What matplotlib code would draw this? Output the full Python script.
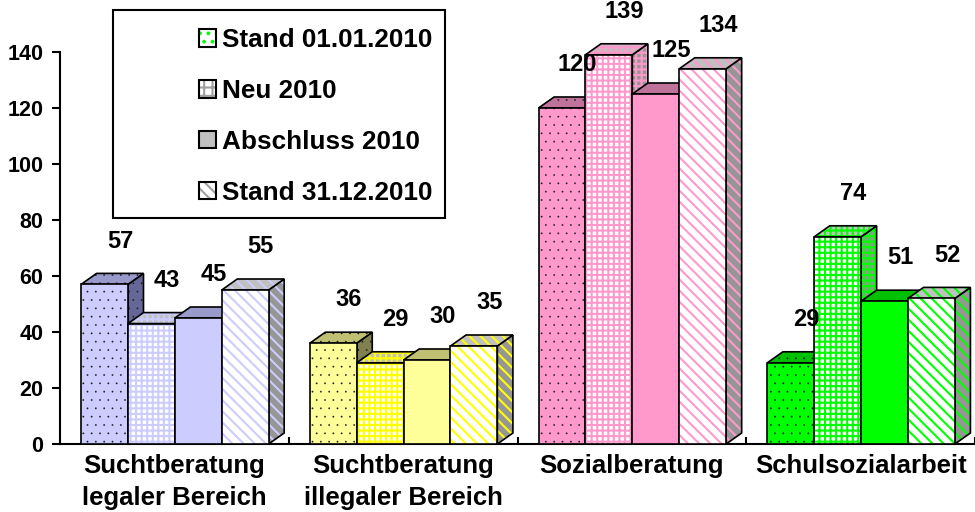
import matplotlib
matplotlib.use('Agg')
import matplotlib.pyplot as plt
from matplotlib.patches import Polygon, Patch, Rectangle
import numpy as np

# ---------------- data ----------------
categories = ['Suchtberatung\nlegaler Bereich', 'Suchtberatung\nillegaler Bereich',
              'Sozialberatung', 'Schulsozialarbeit']
series = ['Stand 01.01.2010', 'Neu 2010', 'Abschluss 2010', 'Stand 31.12.2010']
stand_0101 = [57, 36, 120, 29]
neu_2010 = [43, 29, 139, 74]
abschluss_2010 = [45, 30, 125, 51]
stand_3112 = [55, 35, 134, 52]
yticks = [0, 20, 40, 60, 80, 100, 120, 140]

values = [stand_0101, neu_2010, abschluss_2010, stand_3112]

# ---------------- style ----------------
base_col = ['#ccccff', '#ffff99', '#ff99cc', '#00ff00']
top_col = ['#9999cc', '#c0c073', '#c0739a', '#00c000']
side_col = ['#666699', '#808050', '#99607c', '#008000']
pat_col = ['#ccccff', '#ffff00', '#ff99cc', '#00ff00']
grey_top = '#c0c0c0'
grey_side = '#969696'

plt.rcParams['font.family'] = ['Liberation Sans', 'DejaVu Sans']
plt.rcParams['font.weight'] = 'bold'
plt.rcParams['hatch.linewidth'] = 1.5


def make_patch(cls, *args, hlw=1.5, **kw):
    with plt.rc_context({'hatch.linewidth': hlw}):
        p = cls(*args, **kw)
        if hasattr(p, 'set_hatch_linewidth'):
            p.set_hatch_linewidth(hlw)
    return p


fig = plt.figure(figsize=(9.75, 5.12), dpi=100)
ax = fig.add_axes([60 / 975, 68 / 512, 915 / 975, 392 / 512])
ax.set_xlim(-0.5, 3.5)
ax.set_ylim(0, 140)

W = 0.205      # bar width (category units)
G0 = -0.408    # group start relative to category center
DX = 0.068     # depth offset x
DY = 3.93      # depth offset y (value units)
EDGE = 1.2

x_base = np.arange(len(categories))


def face_style(s, c, face):
    """return facecolor, hatch, hatchcolor, hatch lw"""
    if s == 0:
        fc = {'front': base_col[c], 'top': top_col[c], 'side': side_col[c]}[face]
        return fc, '..', '#202020', 0.1
    if s == 1:
        fc = {'front': 'white', 'top': grey_top, 'side': grey_side}[face]
        return fc, '+++', pat_col[c], 1.5
    if s == 2:
        fc = {'front': base_col[c], 'top': top_col[c], 'side': side_col[c]}[face]
        return fc, None, 'none', 1.0
    fc = {'front': 'white', 'top': grey_top, 'side': grey_side}[face]
    return fc, '\\\\\\', pat_col[c], 1.5


for c in range(len(categories)):
    for s in range(len(series)):
        v = values[s][c]
        x0 = x_base[c] + G0 + s * W
        z = 10 + (c * len(series) + s) * 3
        side_pts = [(x0 + W, 0), (x0 + W + DX, DY), (x0 + W + DX, v + DY), (x0 + W, v)]
        top_pts = [(x0, v), (x0 + W, v), (x0 + W + DX, v + DY), (x0 + DX, v + DY)]
        for face, pts, zz in (('side', side_pts, z), ('top', top_pts, z + 1)):
            fc, h, hc, hlw = face_style(s, c, face)
            p = make_patch(Polygon, pts, closed=True, facecolor=fc, edgecolor=hc,
                           lw=0, hatch=h, zorder=zz, clip_on=False, hlw=hlw)
            ax.add_patch(p)
            ax.add_patch(Polygon(pts, closed=True, fill=False, edgecolor='black',
                                 lw=EDGE, zorder=zz + 0.5, clip_on=False,
                                 joinstyle='miter'))
        # front face
        fc, h, hc, hlw = face_style(s, c, 'front')
        with plt.rc_context({'hatch.linewidth': hlw}):
            b = ax.bar(x0, v, W, align='edge', color=fc, edgecolor=hc, lw=0,
                       hatch=h, zorder=z + 2)
            for p in b.patches:
                if hasattr(p, 'set_hatch_linewidth'):
                    p.set_hatch_linewidth(hlw)
        ax.bar(x0, v, W, align='edge', fill=False, edgecolor='black', lw=EDGE,
               zorder=z + 2.5)
        ax.text(x0 + W / 2 + DX, v + 15.5, str(v), ha='center', va='center',
                fontsize=17, fontweight='bold', zorder=200, clip_on=False)

# ---------------- axes ----------------
for sp in ('top', 'right'):
    ax.spines[sp].set_visible(False)
for sp in ('left', 'bottom'):
    ax.spines[sp].set_linewidth(1.5)

ax.set_yticks(yticks)
ax.tick_params(axis='y', direction='out', length=6, width=1.5, labelsize=15.5, pad=6)
ax.set_xticks(list(x_base[1:] - 0.5) + [3.5], labels=[])
ax.tick_params(axis='x', which='major', direction='in', length=5, width=1.5)
ax.set_xticks(x_base, labels=categories, minor=True)
ax.tick_params(axis='x', which='minor', length=0, pad=7, labelsize=18.5)
for lbl in ax.get_xticklabels(minor=True):
    lbl.set_linespacing(1.45)
    lbl.set_fontweight('bold')

# ---------------- legend ----------------
icon_specs = [('white', '..', '#00ff00', 0.3), ('white', '++', '#a0a0a0', 1.5),
              ('#c0c0c0', None, 'none', 1.0), ('white', '\\\\\\', '#a0a0a0', 1.5)]
handles = []
for fc, h, hc, hlw in icon_specs:
    handles.append((make_patch(Patch, facecolor=fc, edgecolor=hc, lw=0, hatch=h, hlw=hlw),
                    Patch(fill=False, edgecolor='black', lw=1.5)))
leg = ax.legend(handles, series, loc='upper left',
                bbox_to_anchor=(199 / 975, 1 - 28 / 512),
                bbox_transform=fig.transFigure, frameon=False,
                prop={'size': 18.8, 'weight': 'bold'},
                handlelength=0.66, handleheight=0.66, handletextpad=0.22,
                labelspacing=1.03, borderpad=0, borderaxespad=0)
fig.add_artist(Rectangle((113 / 975, 294 / 512), 332 / 975, 208 / 512,
                         transform=fig.transFigure, fill=False,
                         edgecolor='black', lw=1.5))

fig.savefig('out.png', dpi=100)
